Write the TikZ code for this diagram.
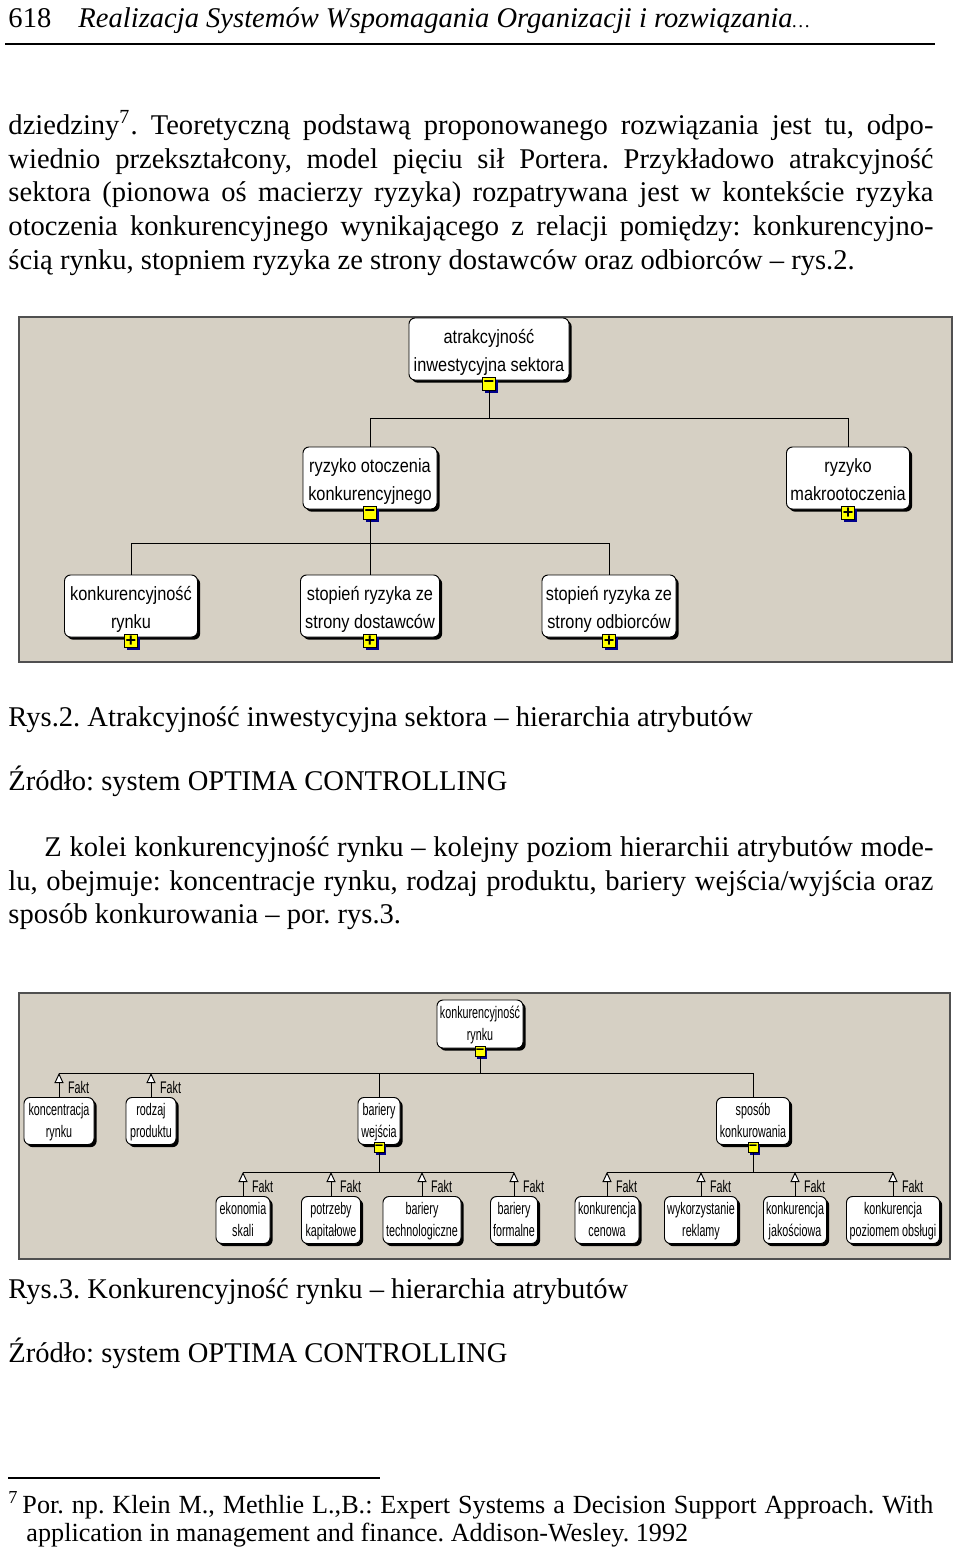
\documentclass[tikz,border=0pt]{standalone}
\usepackage{fontspec}
\setmainfont{Liberation Serif}
\newfontfamily\diagfont[FakeStretch=0.85]{Liberation Sans}
\newfontfamily\leaffont[FakeStretch=0.64]{Liberation Sans}
\newfontfamily\signfont{Liberation Sans}
\usetikzlibrary{shadows, arrows.meta}

\newlength\pxunit
\setlength\pxunit{0.41667pt}

% two text lines with fixed struts, so that every box sets its text alike
\newcommand\bigtext[2]{\rule{0pt}{10.4pt}#1\\#2\rule[-3pt]{0pt}{0pt}}
\newcommand\smalltext[2]{\rule{0pt}{7.2pt}#1\\#2\rule[-2.5pt]{0pt}{0pt}}

\definecolor{panel}{RGB}{214,208,196}
\definecolor{panelline}{RGB}{80,80,80}
\definecolor{markfill}{RGB}{255,255,0}
\definecolor{markshade}{RGB}{0,0,140}

\tikzset{
  bodyline/.style={anchor=base west, inner sep=0pt, font=\fontsize{11.9}{14}\selectfont},
  noteline/.style={anchor=base west, inner sep=0pt, font=\fontsize{10.9}{12}\selectfont},
  panelbox/.style={fill=panel, draw=panelline, line width=0.6pt},
  attrbox/.style={draw=black, fill=white, rounded corners=2.5pt, inner sep=0pt, align=center,
    minimum height=62*\pxunit, font=\diagfont\fontsize{8}{11.7}\selectfont,
    drop shadow={shadow xshift=1.1pt, shadow yshift=-1.1pt, fill=black, opacity=1}},
  leafbox/.style={attrbox, minimum height=47*\pxunit, font=\leaffont\fontsize{7}{9.3}\selectfont},
  pmark/.style={draw=black, fill=markfill, minimum size=13*\pxunit, inner sep=0pt,
    font=\signfont\bfseries\fontsize{7.5}{7.5}\selectfont,
    drop shadow={shadow xshift=1pt, shadow yshift=-1pt, fill=markshade, opacity=1}},
  pmarksmall/.style={pmark, minimum size=10*\pxunit, font=\signfont\bfseries\fontsize{6}{6}\selectfont},
  fakt/.style={-{Triangle[fill=white, length=4.2pt, width=3.8pt]}},
  faktlbl/.style={anchor=west, pos=0.4, inner sep=0pt, xshift=3.6pt, font=\leaffont\fontsize{7}{8}\selectfont}
}

\begin{document}
\frenchspacing
\begin{tikzpicture}[x=\pxunit, y={(0,-\pxunit)}]
  \useasboundingbox (0,0) rectangle (960,1552);
  \fill[white] (0,0) rectangle (960,1552);

  % page header
  \node[bodyline] (h1) at (8,27) {618};
  \node[bodyline, font=\fontsize{11.9}{14}\selectfont\itshape] (h2) at (78,27)
    {Realizacja Systemów Wspomagania Organizacji i rozwiązania{\fontsize{8}{8}\selectfont…}};
  \draw[line width=0.7pt] (5,44) -- (935,44);

  % first paragraph
  \node[bodyline] (t1) at (8,134) {\makebox[925\pxunit][s]{dziedziny\textsuperscript{7}. Teoretyczną podstawą proponowanego rozwiązania jest tu, odpo-}};
  \node[bodyline] (t2) at (8,168) {\makebox[925\pxunit][s]{wiednio przekształcony, model pięciu sił Portera. Przykładowo atrakcyjność}};
  \node[bodyline] (t3) at (8,201) {\makebox[925\pxunit][s]{sektora (pionowa oś macierzy ryzyka) rozpatrywana jest w kontekście ryzyka}};
  \node[bodyline] (t4) at (8,235) {\makebox[925\pxunit][s]{otoczenia konkurencyjnego wynikającego z relacji pomiędzy: konkurencyjno-}};
  \node[bodyline] (t5) at (8,269) {ścią rynku, stopniem ryzyka ze strony dostawców oraz odbiorców – rys.2.};

  % Rys.2
  \draw[panelbox] (19,317) rectangle (952,662);
  \node[attrbox, minimum width=160*\pxunit] (a1) at (489,349) {\bigtext{atrakcyjność}{inwestycyjna sektora}};
  \node[attrbox, minimum width=134*\pxunit] (r1) at (370,478) {\bigtext{ryzyko otoczenia}{konkurencyjnego}};
  \node[attrbox, minimum width=123*\pxunit] (r2) at (848,478) {\bigtext{ryzyko}{makrootoczenia}};
  \node[attrbox, minimum width=133*\pxunit] (s1) at (131,606) {\bigtext{konkurencyjność}{rynku}};
  \node[attrbox, minimum width=139*\pxunit] (s2) at (370,606) {\bigtext{stopień ryzyka ze}{strony dostawców}};
  \node[attrbox, minimum width=134*\pxunit] (s3) at (609,606) {\bigtext{stopień ryzyka ze}{strony odbiorców}};

  \node[pmark] (ma1) at ([yshift=-1.6pt]a1.south) {−};
  \node[pmark] (mr1) at ([yshift=-1.6pt]r1.south) {−};
  \node[pmark] (mr2) at ([yshift=-1.6pt]r2.south) {+};
  \node[pmark] (ms1) at ([yshift=-1.6pt]s1.south) {+};
  \node[pmark] (ms2) at ([yshift=-1.6pt]s2.south) {+};
  \node[pmark] (ms3) at ([yshift=-1.6pt]s3.south) {+};

  \coordinate (j1) at (0,418);
  \coordinate (j2) at (0,543);
  \draw (ma1.south) -- (ma1.south |- j1) -| (r1.north);
  \draw (ma1.south |- j1) -| (r2.north);
  \draw (mr1.south) -- (mr1.south |- j2) -| (s1.north);
  \draw (mr1.south |- j2) -- (s2.north);
  \draw (mr1.south |- j2) -| (s3.north);

  % captions
  \node[bodyline] (c2a) at (8,726) {Rys.2. Atrakcyjność inwestycyjna sektora – hierarchia atrybutów};
  \node[bodyline] (c2b) at (8,790) {Źródło: system OPTIMA CONTROLLING};

  % second paragraph
  \node[bodyline] (u1) at (44,856) {\makebox[889\pxunit][s]{Z kolei konkurencyjność rynku – kolejny poziom hierarchii atrybutów mode-}};
  \node[bodyline] (u2) at (8,890) {\makebox[925\pxunit][s]{lu, obejmuje: koncentracje rynku, rodzaj produktu, bariery wejścia/wyjścia oraz}};
  \node[bodyline] (u3) at (8,923) {sposób konkurowania – por. rys.3.};

  % Rys.3
  \draw[panelbox] (19,993) rectangle (950,1259);
  \node[leafbox, minimum width=86*\pxunit, minimum height=48*\pxunit] (b1) at (480,1024) {\smalltext{konkurencyjność}{rynku}};
  \node[leafbox, minimum width=70*\pxunit] (c1) at (59,1121) {\smalltext{koncentracja}{rynku}};
  \node[leafbox, minimum width=50*\pxunit] (c2) at (151,1121) {\smalltext{rodzaj}{produktu}};
  \node[leafbox, minimum width=42*\pxunit] (c3) at (379,1121) {\smalltext{bariery}{wejścia}};
  \node[leafbox, minimum width=73*\pxunit] (c4) at (753,1121) {\smalltext{sposób}{konkurowania}};
  \node[leafbox, minimum width=54*\pxunit] (d1) at (243,1220) {\smalltext{ekonomia}{skali}};
  \node[leafbox, minimum width=59*\pxunit] (d2) at (331,1220) {\smalltext{potrzeby}{kapitałowe}};
  \node[leafbox, minimum width=78*\pxunit] (d3) at (422,1220) {\smalltext{bariery}{technologiczne}};
  \node[leafbox, minimum width=47*\pxunit] (d4) at (514,1220) {\smalltext{bariery}{formalne}};
  \node[leafbox, minimum width=64*\pxunit] (e1) at (607,1220) {\smalltext{konkurencja}{cenowa}};
  \node[leafbox, minimum width=73*\pxunit] (e2) at (701,1220) {\smalltext{wykorzystanie}{reklamy}};
  \node[leafbox, minimum width=63*\pxunit] (e3) at (795,1220) {\smalltext{konkurencja}{jakościowa}};
  \node[leafbox, minimum width=93*\pxunit] (e4) at (893,1220) {\smalltext{konkurencja}{poziomem obsługi}};

  \node[pmarksmall] (mb1) at ([yshift=-1.2pt]b1.south) {−};
  \node[pmarksmall] (mc3) at ([yshift=-1.2pt]c3.south) {−};
  \node[pmarksmall] (mc4) at ([yshift=-1.2pt]c4.south) {−};

  \coordinate (k1) at (0,1073);
  \coordinate (k2) at (0,1172);
  \draw (mb1.south) -- (mb1.south |- k1);
  \draw (c1.north |- k1) -- (c4.north |- k1) -- (c4.north);
  \draw (c3.north |- k1) -- (c3.north);
  \draw (mc3.south) -- (mc3.south |- k2);
  \draw (d1.north |- k2) -- (d4.north |- k2);
  \draw (mc4.south) -- (mc4.south |- k2);
  \draw (e1.north |- k2) -- (e4.north |- k2);
  \foreach \n in {c1,c2}
    \draw[fakt] (\n.north) -- node[faktlbl] {Fakt} (\n.north |- k1);
  \foreach \n in {d1,d2,d3,d4,e1,e2,e3,e4}
    \draw[fakt] (\n.north) -- node[faktlbl] {Fakt} (\n.north |- k2);

  % captions
  \node[bodyline] (c3a) at (8,1298) {Rys.3. Konkurencyjność rynku – hierarchia atrybutów};
  \node[bodyline] (c3b) at (8,1362) {Źródło: system OPTIMA CONTROLLING};

  % footnote
  \draw[line width=0.5pt] (8,1478) -- (380,1478);
  \node[noteline] (f0) at (8,1513) {\textsuperscript{7}};
  \node[noteline] (f1) at (22,1513) {\makebox[911\pxunit][s]{Por. np. Klein M., Methlie L.,B.: Expert Systems a Decision Support Approach. With}};
  \node[noteline] (f2) at (26,1541) {application in management and finance. Addison-Wesley. 1992};
\end{tikzpicture}
\end{document}
